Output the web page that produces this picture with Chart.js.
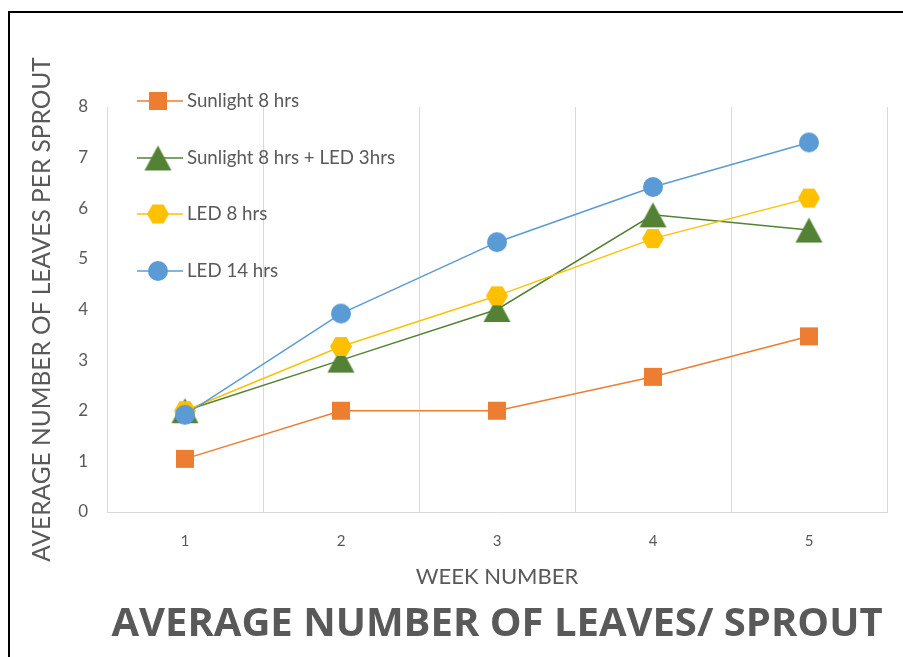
<!DOCTYPE html>
<html>
<head>
<meta charset="utf-8">
<script src="https://cdn.jsdelivr.net/npm/chart.js@4.4.1/dist/chart.umd.min.js"></script>
<style>
  html, body { margin: 0; padding: 0; background: #fff; }
  #wrap { position: relative; width: 903px; height: 657px; overflow: hidden; }
  #wrap canvas { position: absolute; left: 0; top: 0; }
  #frame { position: absolute; left: 8px; top: 11px; right: -4px; bottom: -4px;
           border-left: 2px solid #000; border-top: 2px solid #000; pointer-events: none; }
</style>
</head>
<body>
<div id="wrap">
  <canvas id="chart" width="903" height="657"></canvas>
  <div id="frame"></div>
</div>
<script>
// Week numbers on the x axis
const weeks = ['1', '2', '3', '4', '5'];

// Average leaves per sprout for each light treatment
const sunlight8 = [1.05, 2, 2, 2.67, 3.47];
const sunlight8Led3 = [2, 3, 4, 5.87, 5.57];
const led8 = [2, 3.27, 4.27, 5.4, 6.2];
const led14 = [1.92, 3.92, 5.33, 6.42, 7.3];

const seriesNames = ['Sunlight 8 hrs', 'Sunlight 8 hrs + LED 3hrs', 'LED 8 hrs', 'LED 14 hrs'];
const seriesColors = ['#ED7D31', '#548235', '#FFC000', '#5B9BD5'];

// Marker images (square, triangle, hexagon, circle)
function makeMarker(shape, color) {
  const sizes = { square: [18, 18], triangle: [27, 25], hexagon: [22, 19], circle: [20, 20] };
  const [w, h] = sizes[shape];
  const c = document.createElement('canvas');
  c.width = w + 2; c.height = h + 2;
  const ctx = c.getContext('2d');
  ctx.translate(1, 1);
  ctx.fillStyle = color;
  ctx.beginPath();
  if (shape === 'square') {
    ctx.rect(0, 0, w, h);
  } else if (shape === 'triangle') {
    ctx.moveTo(w / 2, 0); ctx.lineTo(w, h); ctx.lineTo(0, h); ctx.closePath();
  } else if (shape === 'hexagon') {
    ctx.moveTo(0, h / 2); ctx.lineTo(w / 4, 0); ctx.lineTo(3 * w / 4, 0);
    ctx.lineTo(w, h / 2); ctx.lineTo(3 * w / 4, h); ctx.lineTo(w / 4, h); ctx.closePath();
  } else {
    ctx.arc(w / 2, h / 2, w / 2, 0, Math.PI * 2);
  }
  ctx.fill();
  return c;
}

const markers = [
  makeMarker('square', seriesColors[0]),
  makeMarker('triangle', seriesColors[1]),
  makeMarker('hexagon', seriesColors[2]),
  makeMarker('circle', seriesColors[3])
];

const seriesValues = [sunlight8, sunlight8Led3, led8, led14];
const drawOrder = [3, 2, 1, 0];

const datasets = seriesValues.map((vals, i) => ({
  label: seriesNames[i],
  data: vals,
  borderColor: seriesColors[i],
  backgroundColor: seriesColors[i],
  borderWidth: 1.5,
  tension: 0,
  pointStyle: markers[i],
  pointRadius: 10,
  order: drawOrder[i]
}));

// Legend drawn inside the plot, stacked vertically at the upper left
const insideLegend = {
  id: 'insideLegend',
  afterDraw(chart) {
    const ctx = chart.ctx;
    const rows = [101, 158, 214, 271];
    ctx.save();
    chart.data.datasets.forEach((ds, i) => {
      const y = rows[i];
      ctx.strokeStyle = ds.borderColor;
      ctx.lineWidth = 1.5;
      ctx.beginPath();
      ctx.moveTo(137, y);
      ctx.lineTo(183, y);
      ctx.stroke();
      const m = ds.pointStyle;
      ctx.drawImage(m, 158 - m.width / 2, y - m.height / 2);
      ctx.fillStyle = '#595959';
      ctx.font = '18.7px Lato';
      ctx.textAlign = 'left';
      ctx.textBaseline = 'middle';
      ctx.fillText(ds.label, 187, y);
    });
    ctx.restore();
  }
};

const textColor = '#595959';

new Chart(document.getElementById('chart'), {
  type: 'line',
  data: { labels: weeks, datasets },
  plugins: [insideLegend],
  options: {
    responsive: false,
    animation: false,
    devicePixelRatio: 1,
    layout: { padding: { left: 10, right: 16, top: 107, bottom: 8 } },
    plugins: {
      legend: { display: false },
      tooltip: { enabled: false },
      title: {
        display: true,
        position: 'bottom',
        fullSize: false,
        text: 'AVERAGE NUMBER OF LEAVES/ SPROUT',
        color: textColor,
        font: { family: '"Open Sans"', size: 40, weight: 'bold', lineHeight: 1.2 },
        padding: 0
      }
    },
    scales: {
      x: {
        type: 'category',
        offset: true,
        grid: { offset: true, color: '#d9d9d9', lineWidth: 1, drawTicks: false },
        border: { display: true, color: '#d9d9d9' },
        ticks: { color: textColor, font: { family: 'Lato', size: 15 }, padding: 20 },
        title: {
          display: true,
          text: 'WEEK NUMBER',
          color: textColor,
          font: { family: 'Lato', size: 22, lineHeight: 1.2 },
          padding: { top: 0, bottom: 10.8 }
        },
        afterFit(scale) { scale.height = 89; }
      },
      y: {
        min: 0,
        max: 8,
        ticks: { stepSize: 1, color: textColor, font: { family: 'Lato', size: 17 }, padding: 19 },
        grid: { display: false, drawTicks: false },
        border: { display: true, color: '#d9d9d9' },
        title: {
          display: true,
          text: 'AVERAGE NUMBER OF LEAVES PER SPROUT',
          color: textColor,
          font: { family: 'Lato', size: 24.5, lineHeight: 1.2 },
          padding: { top: 17.3, bottom: 0 }
        },
        afterFit(scale) { scale.width = 97; }
      }
    }
  }
});
</script>
</body>
</html>
